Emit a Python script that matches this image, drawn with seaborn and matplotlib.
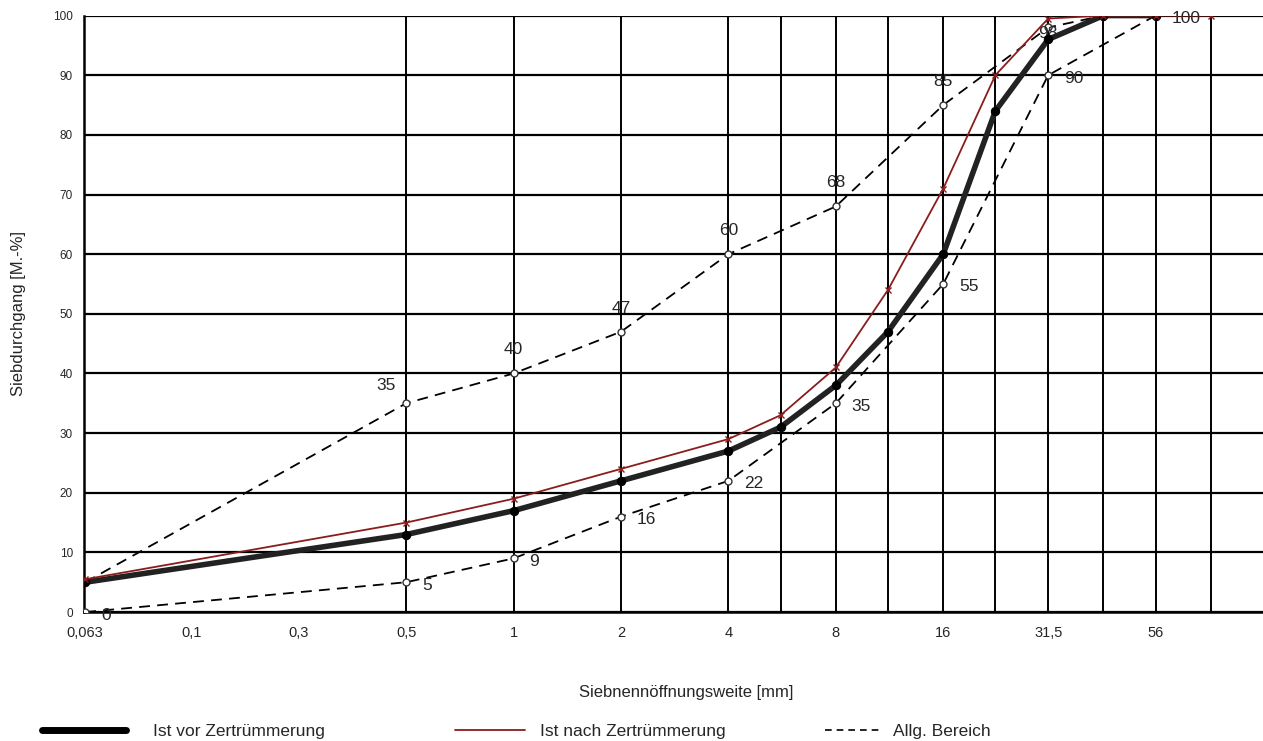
import matplotlib
matplotlib.use("Agg")
import matplotlib.pyplot as plt
from matplotlib.lines import Line2D
from matplotlib.ticker import NullFormatter
import seaborn as sns
import pandas as pd

# sieve sizes [mm] and passing [M.-%]
vor_sizes = [0.063, 0.5, 1, 2, 4, 5.6, 8, 11.2, 16, 22.4, 31.5, 45, 63]
vor_vals = [5, 13, 17, 22, 27, 31, 38, 47, 60, 84, 96, 100, 100]

nach_sizes = [0.063, 0.5, 1, 2, 4, 5.6, 8, 11.2, 16, 22.4, 31.5, 45, 63, 90]
nach_vals = [5.5, 15, 19, 24, 29, 33, 41, 54, 71, 90, 99.5, 100, 100, 100]

upper_sizes = [0.063, 0.5, 1, 2, 4, 8, 16, 31.5, 45]
upper_vals = [5, 35, 40, 47, 60, 68, 85, 98, 100]
upper_labels = ["", "35", "40", "47", "60", "68", "85", "98", ""]

lower_sizes = [0.063, 0.5, 1, 2, 4, 8, 16, 31.5, 63]
lower_vals = [0, 5, 9, 16, 22, 35, 55, 90, 100]
lower_labels = ["0", "5", "9", "16", "22", "35", "55", "90", "100"]

tick_sizes = [0.063, 0.125, 0.25, 0.5, 1, 2, 4, 8, 16, 31.5, 63]
tick_labels = ["0,063", "0,1", "0,3", "0,5", "1", "2", "4", "8", "16", "31,5", "56"]
grid_sizes = [0.5, 1, 2, 4, 5.6, 8, 11.2, 16, 22.4, 31.5, 45, 63, 90]

sns.set_style("white")
plt.rcParams['font.family'] = ['Liberation Sans', 'DejaVu Sans']

fig = plt.figure(figsize=(12.63, 7.41), dpi=100)
ax = fig.add_axes([0.0665, 0.174, 0.9335, 0.805])

df_up = pd.DataFrame({"size": upper_sizes, "val": upper_vals})
df_lo = pd.DataFrame({"size": lower_sizes, "val": lower_vals})
df_vor = pd.DataFrame({"size": vor_sizes, "val": vor_vals})
df_nach = pd.DataFrame({"size": nach_sizes, "val": nach_vals})

dash_kw = dict(color="black", lw=1.3, marker="o", markersize=5,
               markerfacecolor="white", markeredgecolor="#333333",
               markeredgewidth=1.0, zorder=3)
sns.lineplot(data=df_up, x="size", y="val", ax=ax, linestyle=(0, (6, 4)), **dash_kw)
sns.lineplot(data=df_lo, x="size", y="val", ax=ax, linestyle=(0, (6, 4)), **dash_kw)
sns.lineplot(data=df_vor, x="size", y="val", ax=ax, color="#222222", lw=4,
             marker="o", markersize=6, markerfacecolor="black",
             markeredgecolor="black", zorder=4)
sns.lineplot(data=df_nach, x="size", y="val", ax=ax, color="#8b1c1c", lw=1.3,
             marker="x", markersize=5, markeredgewidth=1.0,
             markeredgecolor="#8b1c1c", zorder=5)

ax.set_xscale("log", base=2)
ax.set_xlim(0.0625, 126)
ax.set_ylim(0, 100)

# value labels
for s, v, t in zip(upper_sizes, upper_vals, upper_labels):
    if not t:
        continue
    if t == "35":
        ax.annotate(t, (s, v), xytext=(-10, 10), textcoords="offset pixels",
                    ha="right", va="bottom", fontsize=12.5)
    elif t == "98":
        ax.annotate(t, (s, v), xytext=(0, -6), textcoords="offset pixels",
                    ha="center", va="center", fontsize=12.5)
    else:
        ax.annotate(t, (s, v), xytext=(0, 16), textcoords="offset pixels",
                    ha="center", va="bottom", fontsize=12.5)
for s, v, t in zip(lower_sizes, lower_vals, lower_labels):
    ax.annotate(t, (s, v), xytext=(16, -3), textcoords="offset pixels",
                ha="left", va="center", fontsize=12.5)

# axes, ticks and grid
ax.set_xticks(tick_sizes)
ax.set_xticklabels(tick_labels, fontsize=10.5)
ax.xaxis.set_minor_formatter(NullFormatter())
ax.tick_params(axis="x", which="both", length=0, pad=10)
ax.set_yticks(range(0, 101, 10))
ax.set_yticklabels([str(v) for v in range(0, 101, 10)], fontsize=8.5)
ax.tick_params(axis="y", length=0, pad=8)
ax.grid(False)
ax.grid(True, axis="y", which="major", color="black", lw=1.6)
for g in grid_sizes:
    ax.axvline(g, color="black", lw=1.4, zorder=1)
for side in ["top", "right"]:
    ax.spines[side].set_visible(False)
ax.spines["left"].set_color("black")
ax.spines["left"].set_linewidth(1.8)
ax.spines["bottom"].set_color("black")
ax.spines["bottom"].set_linewidth(1.8)

ax.set_xlabel("")
ax.set_ylabel("Siebdurchgang [M.-%]", fontsize=12)
ax.yaxis.set_label_coords(-0.049, 0.5)
fig.text(0.543, 0.066, "Siebnennöffnungsweite [mm]", ha="center", va="center", fontsize=12)

# legend
leg_kw = dict(frameon=False, fontsize=12.5, borderaxespad=0)
l1 = fig.legend([Line2D([], [], color="black", lw=5)], ["Ist vor Zertrümmerung"],
                loc="center left", bbox_to_anchor=(0.028, 0.013), handlelength=4.8,
                handletextpad=1.6, **leg_kw)
l2 = fig.legend([Line2D([], [], color="#8b1c1c", lw=1.3)], ["Ist nach Zertrümmerung"],
                loc="center left", bbox_to_anchor=(0.355, 0.013), handlelength=4.0,
                handletextpad=0.9, **leg_kw)
l3 = fig.legend([Line2D([], [], color="black", lw=1.2, linestyle=(0, (4, 3)))], ["Allg. Bereich"],
                loc="center left", bbox_to_anchor=(0.648, 0.013), handlelength=3.3,
                handletextpad=0.6, **leg_kw)

fig.savefig("out.png", dpi=100)
